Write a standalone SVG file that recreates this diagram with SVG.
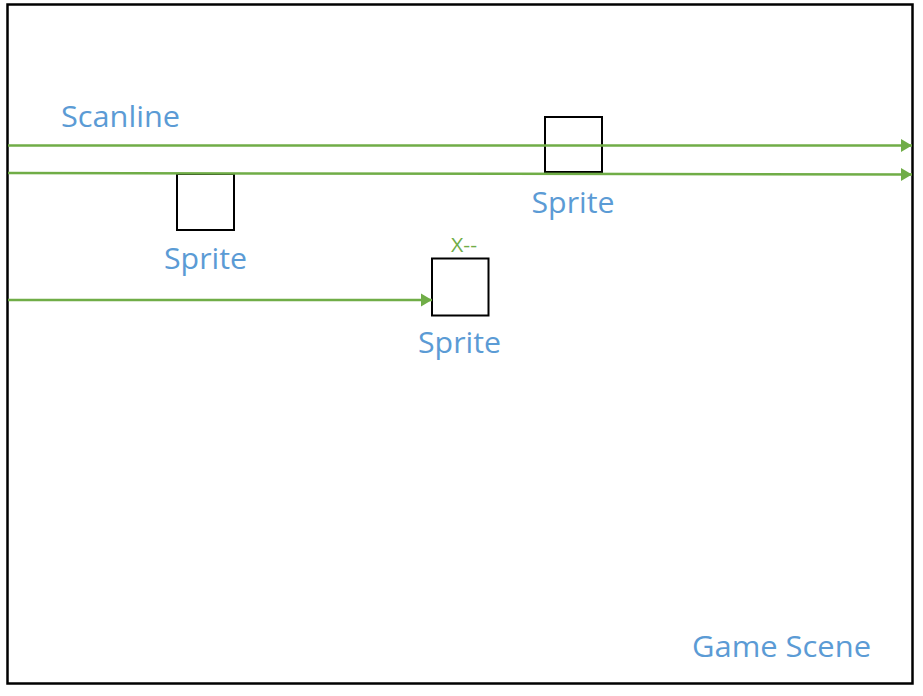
<svg xmlns="http://www.w3.org/2000/svg" width="923" height="696" viewBox="0 0 923 696">
<style>
.lbl{font-family:"Open Sans","Liberation Sans",sans-serif;fill:#5B9BD5;font-size:30px}
.box{fill:#fff;stroke:#000;stroke-width:2}
.ln{stroke:#70AD47;stroke-width:2.5;fill:none}
</style>
<defs>
<marker id="ah" markerUnits="userSpaceOnUse" markerWidth="13" markerHeight="14" refX="11" refY="7" orient="auto">
<path d="M0,0.5 L11,7 L0,13.5 Z" fill="#70AD47"/>
</marker>
</defs>
<rect width="923" height="696" fill="#fff"/>
<g id="scene">
<rect x="7.5" y="4.5" width="905" height="679" fill="#fff" stroke="#000" stroke-width="2.5"/>
<text class="lbl" x="692" y="657" textLength="179" lengthAdjust="spacingAndGlyphs">Game Scene</text>
</g>
<g id="sprite1">
<rect class="box" x="177" y="174" width="57" height="56"/>
<text class="lbl" x="205.5" y="269" text-anchor="middle" textLength="83" lengthAdjust="spacingAndGlyphs">Sprite</text>
</g>
<g id="sprite2">
<rect class="box" x="545" y="117" width="57" height="55"/>
<text class="lbl" x="573" y="213" text-anchor="middle" textLength="83" lengthAdjust="spacingAndGlyphs">Sprite</text>
</g>
<g id="sprite3">
<rect class="box" x="432" y="258.5" width="56.5" height="57"/>
<text class="lbl" x="459.5" y="353" text-anchor="middle" textLength="83" lengthAdjust="spacingAndGlyphs">Sprite</text>
<text x="464" y="252" text-anchor="middle" font-family="Open Sans, Liberation Sans, sans-serif" font-size="20" fill="#70AD47" textLength="26" lengthAdjust="spacingAndGlyphs">X--</text>
</g>
<g id="connectors">
<line class="ln" x1="8" y1="145.5" x2="912" y2="145.5" marker-end="url(#ah)"/>
<line class="ln" x1="8" y1="173" x2="912" y2="174.5" marker-end="url(#ah)"/>
<line class="ln" x1="8" y1="300" x2="432" y2="300" marker-end="url(#ah)"/>
</g>
<text id="scanline" class="lbl" x="61" y="127" textLength="119" lengthAdjust="spacingAndGlyphs">Scanline</text>
</svg>
